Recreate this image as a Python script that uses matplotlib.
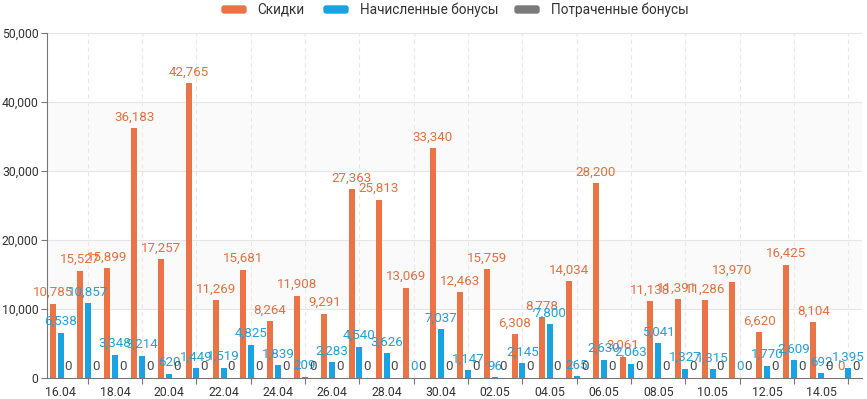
import numpy as np
import matplotlib
matplotlib.use("Agg")
import matplotlib.pyplot as plt
from matplotlib.patches import FancyBboxPatch

plt.rcParams['font.family'] = ['Roboto', 'DejaVu Sans']

dates = ["16.04", "17.04", "18.04", "19.04", "20.04", "21.04", "22.04", "23.04", "24.04", "25.04",
         "26.04", "27.04", "28.04", "29.04", "30.04", "01.05", "02.05", "03.05", "04.05", "05.05",
         "06.05", "07.05", "08.05", "09.05", "10.05", "11.05", "12.05", "13.05", "14.05", "15.05"]
discounts = [10785, 15527, 15899, 36183, 17257, 42765, 11269, 15681, 8264, 11908,
             9291, 27363, 25813, 13069, 33340, 12463, 15759, 6308, 8778, 14034,
             28200, 3061, 11138, 11391, 11286, 13970, 6620, 16425, 8104, 0]
accrued = [6538, 10857, 3348, 3214, 620, 1449, 1519, 4825, 1839, 209,
           2283, 4540, 3626, 0, 7037, 1147, 96, 2145, 7800, 265,
           2630, 2063, 5041, 1327, 1315, 0, 1770, 2609, 692, 1395]
spent = [0] * 30
series_names = ["Скидки", "Начисленные бонусы", "Потраченные бонусы"]
yticks = [0, 10000, 20000, 30000, 40000, 50000]

colors = ["#EB7447", "#1AA3E3", "#7A7A7A"]
label_colors = ["#E4703F", "#22A0DA", "#4A4A4A"]

fig = plt.figure(figsize=(8.67, 3.99), dpi=100)
W, H = 867, 399
ax = fig.add_axes([47 / W, 21 / H, (862 - 47) / W, (378 - 33) / H])

x = np.arange(len(dates))
bw = 0.22
off = 0.29

# background bands
for lo, hi in [(10000, 20000), (30000, 40000)]:
    ax.axhspan(lo, hi, color="#FAFAFA", zorder=0, lw=0)
for yv in yticks[1:]:
    ax.axhline(yv, color="#E6E6E6", lw=0.8, zorder=0.5)
for xi in x[1::2]:
    ax.axvline(xi, color="#E8E8E8", lw=0.8, ls=(0, (4, 3)), zorder=0.5)

all_series = [discounts, accrued, spent]
for k, (vals, c) in enumerate(zip(all_series, colors)):
    ax.bar(x + (k - 1) * off, vals, width=bw, color=c, zorder=2)
for k, (vals, lc) in enumerate(zip(all_series, label_colors)):
    for xi, v in zip(x, vals):
        ax.annotate(f"{v:,}", (xi + (k - 1) * off, v), xytext=(0, 5.5),
                    textcoords="offset points", ha="center", va="baseline",
                    fontsize=9.6, color=lc, zorder=3)

ax.set_xlim(-0.5, len(dates) - 0.5)
ax.set_ylim(0, 50000)
ax.set_yticks(yticks)
ax.set_yticklabels([f"{v:,}" for v in yticks])
ax.set_xticks(x[1::2])
ax.set_xticklabels([])
for xi in x[0::2]:
    ax.text(xi, -0.022, dates[xi], transform=ax.get_xaxis_transform(),
            ha="center", va="top", fontsize=8.8, color="#333333")
ax.tick_params(axis="y", labelsize=8.8, labelcolor="#333333", length=4, color="#777777", pad=2)
ax.tick_params(axis="x", length=4, color="#777777")
for s in ["top", "right"]:
    ax.spines[s].set_visible(False)
for s in ["left", "bottom"]:
    ax.spines[s].set_color("#777777")
    ax.spines[s].set_linewidth(0.8)

# legend
leg_items = [(222, 257), (324, 360), (515, 551)]
for (rx, tx), name, c in zip(leg_items, series_names, colors):
    p = FancyBboxPatch((rx / W, (H - 13) / H), 24 / W, 7 / H,
                       boxstyle="round,pad=0,rounding_size=0.0025", transform=fig.transFigure,
                       color=c, mutation_aspect=W / H)
    fig.patches.append(p)
    fig.text(tx / W, (H - 9.5) / H, name, ha="left", va="center", fontsize=9.8, color="#333333")

fig.savefig("out.png", dpi=100)
